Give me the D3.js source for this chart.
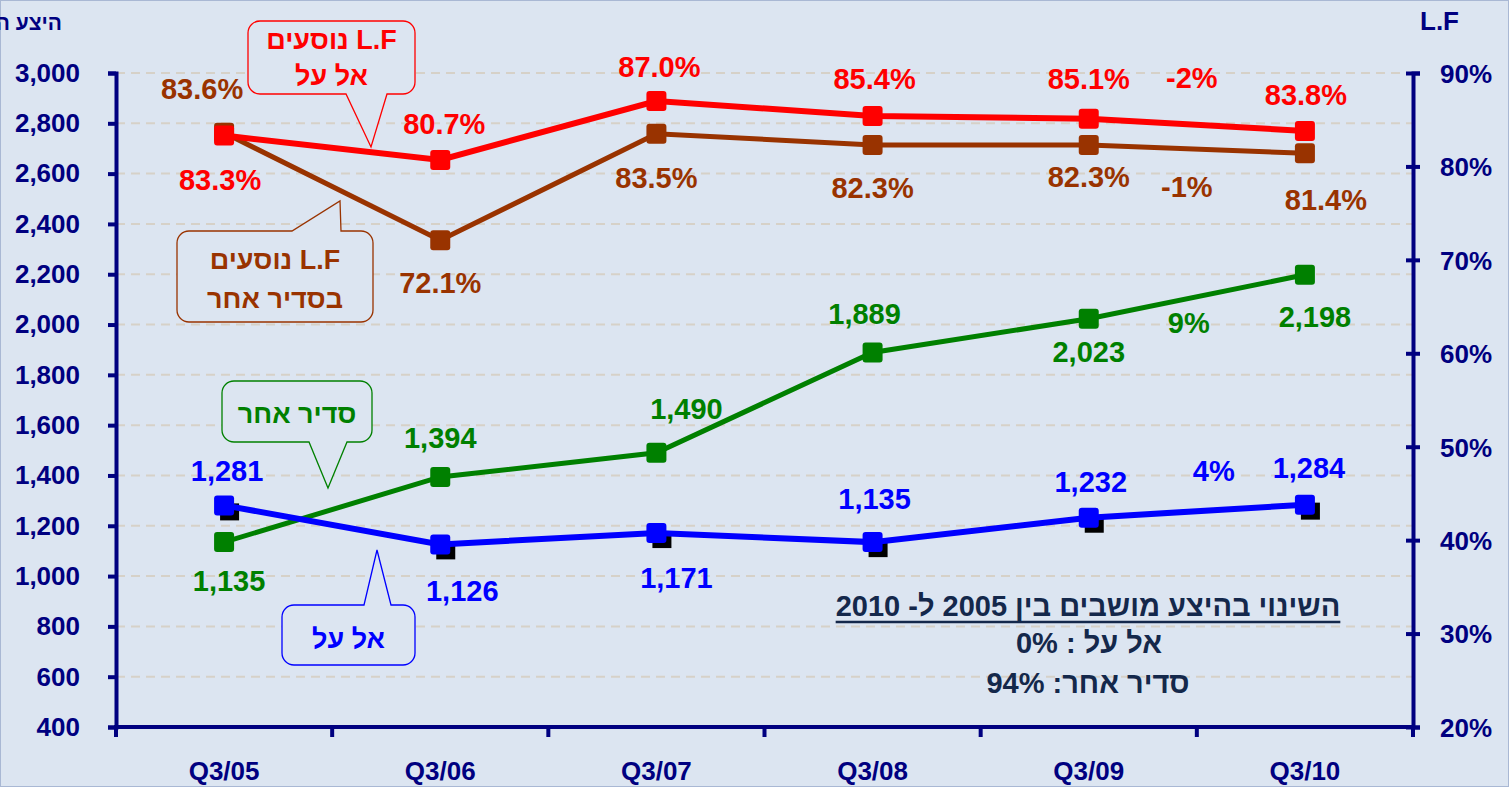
<!doctype html>
<html lang="he">
<head>
<meta charset="UTF-8">
<title>היצע מושבים ו-L.F</title>
<script src="https://cdn.jsdelivr.net/npm/d3@7"></script>
<style>
  body { margin: 0; background: #dce5f1; }
  svg { display: block; font-family: "Liberation Sans", Arial, sans-serif; font-weight: bold; }
</style>
</head>
<body>
<script>
// categories (quarters)
var quarters = ["Q3/05", "Q3/06", "Q3/07", "Q3/08", "Q3/09", "Q3/10"];

// seat supply (left axis)
var elalSeats  = [1281, 1126, 1171, 1135, 1232, 1284];
var otherSeats = [1135, 1394, 1490, 1889, 2023, 2198];

// load factor (right axis)
var elalLF  = [0.833, 0.807, 0.870, 0.854, 0.851, 0.838];
var otherLF = [0.836, 0.721, 0.835, 0.823, 0.823, 0.814];

// axis ticks
var seatTicks = d3.range(400, 3001, 200);
var lfTicks = [0.2, 0.3, 0.4, 0.5, 0.6, 0.7, 0.8, 0.9];

// change from Q3/09 to Q3/10 (other LF, El Al LF, other seats, El Al seats)
var changeLabels = ["-1%", "-2%", "9%", "4%"];

var W = 1509, H = 787;
var NAVY = "#000080";

var svg = d3.select("body").append("svg").attr("width", W).attr("height", H);

svg.append("rect").attr("x", 0.5).attr("y", 0.5).attr("width", W - 1).attr("height", H - 1)
  .attr("fill", "#dce5f1").attr("stroke", "#a9b8d4");

var x = d3.scaleBand().domain(quarters).range([116, 1413]).padding(0);
var yL = d3.scaleLinear().domain([400, 3000]).range([727, 73]);
var yR = d3.scaleLinear().domain([0.2, 0.9]).range([727, 73]);
var cx = function(q) { return x(q) + x.bandwidth() / 2; };

// dashed grid
svg.append("g").selectAll("line").data(seatTicks.slice(1)).enter().append("line")
  .attr("x1", 116).attr("x2", 1413)
  .attr("y1", function(d) { return yL(d); }).attr("y2", function(d) { return yL(d); })
  .attr("stroke", "#d6d1c8").attr("stroke-width", 2).attr("stroke-dasharray", "9,6");

// left axis
var gl = svg.append("g").attr("transform", "translate(116,0)")
  .call(d3.axisLeft(yL).tickValues(seatTicks).tickFormat(d3.format(",")).tickSize(8).tickPadding(28));
// right axis
var gr = svg.append("g").attr("transform", "translate(1413,0)")
  .call(d3.axisRight(yR).tickValues(lfTicks).tickFormat(d3.format(".0%")).tickSize(7).tickPadding(20));
gr.selectAll(".tick line").attr("x1", -7);

[gl, gr].forEach(function(g) {
  g.select(".domain").attr("stroke", NAVY).attr("stroke-width", 4);
  g.selectAll(".tick line").attr("stroke", NAVY).attr("stroke-width", 4);
  g.selectAll(".tick text").attr("fill", NAVY).style("font-size", "26px").style("font-weight", "bold")
    .style("font-family", "'Liberation Sans', Arial, sans-serif");
});
gr.selectAll(".tick text").attr("dy", "0.36em");

// x axis (ticks on band edges)
var gx = svg.append("g");
gx.append("line").attr("x1", 114).attr("x2", 1415).attr("y1", 727).attr("y2", 727)
  .attr("stroke", NAVY).attr("stroke-width", 4);
gx.selectAll("line.tk").data(quarters.concat(["end"])).enter().append("line").attr("class", "tk")
  .attr("x1", function(d) { return d === "end" ? 1413 : x(d); })
  .attr("x2", function(d) { return d === "end" ? 1413 : x(d); })
  .attr("y1", 727).attr("y2", 737).attr("stroke", NAVY).attr("stroke-width", 4);
gx.selectAll("text").data(quarters).enter().append("text")
  .attr("x", cx).attr("y", 780).attr("text-anchor", "middle")
  .attr("fill", NAVY).style("font-size", "26px").text(function(d) { return d; });

// axis titles (left one runs off the edge, as in the original slide)
svg.append("text").attr("x", 62).attr("y", 30).attr("direction", "rtl").attr("text-anchor", "start")
  .attr("fill", NAVY).style("font-size", "21px").text("היצע המושבים");
svg.append("text").attr("x", 1420).attr("y", 30)
  .attr("fill", NAVY).style("font-size", "26px").text("L.F");

// series
var series = [
  { vals: otherLF,    y: yR, color: "#993300", width: 5, fmt: d3.format(".1%"),
    dy: [-44, 42, 44, 43, 32, 46], dx: [-22, 0, 0, 0, 0, 21] },
  { vals: elalLF,     y: yR, color: "#ff0000", width: 6, fmt: d3.format(".1%"),
    dy: [44, -36, -34, -37, -40, -36], dx: [-4, 4, 3, 2, 0, 1] },
  { vals: otherSeats, y: yL, color: "#008000", width: 5, fmt: d3.format(","),
    dy: [38, -39, -44, -39, 33, 42], dx: [5, 0, 30, -8, 0, 10] },
  { vals: elalSeats,  y: yL, color: "#0000ff", width: 6, fmt: d3.format(","), shadow: true,
    dy: [-35, 46, 44, -44, -36, -37], dx: [3, 22, 20, 2, 2, 4] }
];

series.forEach(function(s) {
  var pts = quarters.map(function(q, i) { return [cx(q), s.y(s.vals[i])]; });
  var g = svg.append("g");
  if (s.shadow) {
    g.selectAll("rect.sh").data(pts).enter().append("rect").attr("class", "sh")
      .attr("x", function(p) { return p[0] - 4; }).attr("y", function(p) { return p[1] - 2; })
      .attr("width", 19).attr("height", 17).attr("fill", "#000");
  }
  g.append("path").attr("d", d3.line()(pts)).attr("fill", "none")
    .attr("stroke", s.color).attr("stroke-width", s.width);
  g.selectAll("rect.mk").data(pts).enter().append("rect").attr("class", "mk")
    .attr("x", function(p) { return p[0] - 10; }).attr("y", function(p) { return p[1] - 10; })
    .attr("width", 20).attr("height", 20).attr("rx", 3).attr("fill", s.color);
  g.selectAll("text").data(pts).enter().append("text")
    .attr("x", function(p, i) { return p[0] + s.dx[i]; })
    .attr("y", function(p, i) { return p[1] + s.dy[i]; })
    .attr("dy", "0.36em").attr("text-anchor", "middle")
    .attr("fill", s.color).style("font-size", "29px")
    .text(function(p, i) { return s.fmt(s.vals[i]); });
});

// change labels between Q3/09 and Q3/10
var chgDy = [37, -47, 26, -41], chgDx = [-10, -5, -8, 17];
series.forEach(function(s, k) {
  var m = (s.y(s.vals[4]) + s.y(s.vals[5])) / 2;
  svg.append("text").attr("x", x("Q3/10") + chgDx[k]).attr("y", m + chgDy[k]).attr("dy", "0.36em")
    .attr("text-anchor", "middle").attr("fill", s.color).style("font-size", "29px")
    .text(changeLabels[k]);
});

// callouts: box, pointer base on top or bottom, tip
function callout(b, base, tip, color, lines, baselines) {
  var r = 12, p = d3.path();
  p.moveTo(b.x0 + r, b.y0);
  if (base.side === "top") { p.lineTo(base.a, b.y0); p.lineTo(tip[0], tip[1]); p.lineTo(base.b, b.y0); }
  p.lineTo(b.x1 - r, b.y0);
  p.arcTo(b.x1, b.y0, b.x1, b.y0 + r, r);
  p.lineTo(b.x1, b.y1 - r);
  p.arcTo(b.x1, b.y1, b.x1 - r, b.y1, r);
  if (base.side === "bottom") { p.lineTo(base.b, b.y1); p.lineTo(tip[0], tip[1]); p.lineTo(base.a, b.y1); }
  p.lineTo(b.x0 + r, b.y1);
  p.arcTo(b.x0, b.y1, b.x0, b.y1 - r, r);
  p.lineTo(b.x0, b.y0 + r);
  p.arcTo(b.x0, b.y0, b.x0 + r, b.y0, r);
  p.closePath();
  svg.append("path").attr("d", p.toString()).attr("fill", "#dce5f1")
    .attr("stroke", color).attr("stroke-width", 1.3);
  lines.forEach(function(t, i) {
    svg.append("text").attr("x", (b.x0 + b.x1) / 2).attr("y", baselines[i])
      .attr("text-anchor", "middle").attr("direction", "rtl")
      .attr("fill", color).style("font-size", "27px").text(t);
  });
}

callout({ x0: 248, y0: 21, x1: 415, y1: 94 }, { side: "bottom", a: 346, b: 387 }, [371, 147],
  "#ff0000", ["L.F נוסעים", "אל על"], [49, 85]);
callout({ x0: 177, y0: 231, x1: 373, y1: 322 }, { side: "top", a: 292, b: 341 }, [340, 201],
  "#993300", ["L.F נוסעים", "בסדיר אחר"], [269, 308]);
callout({ x0: 222, y0: 381, x1: 372, y1: 442 }, { side: "bottom", a: 309, b: 347 }, [328, 488],
  "#008000", ["סדיר אחר"], [423]);
callout({ x0: 282, y0: 605, x1: 415, y1: 665 }, { side: "top", a: 364, b: 391 }, [377, 550],
  "#0000ff", ["אל על"], [648]);

// summary text
var summary = svg.append("g").attr("fill", "#14284b").style("font-size", "29px");
var t1 = summary.append("text").attr("x", 1088).attr("y", 616).attr("text-anchor", "middle")
  .attr("direction", "rtl").text("השינוי בהיצע מושבים בין 2005 ל- 2010");
var bb = t1.node().getBBox();
summary.append("line").attr("x1", bb.x).attr("x2", bb.x + bb.width).attr("y1", 622).attr("y2", 622)
  .attr("stroke", "#14284b").attr("stroke-width", 2.5);
summary.append("text").attr("x", 1089).attr("y", 653).attr("text-anchor", "middle")
  .attr("direction", "rtl").text("אל על : 0%");
summary.append("text").attr("x", 1088).attr("y", 693).attr("text-anchor", "middle")
  .attr("direction", "rtl").text("סדיר אחר: 94%");
</script>
</body>
</html>
